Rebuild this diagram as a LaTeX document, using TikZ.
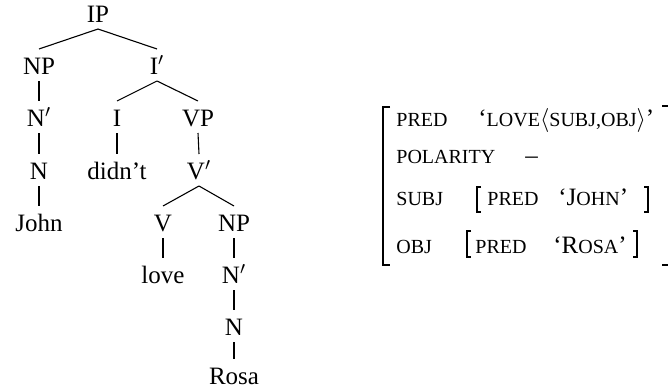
\documentclass[tikz,border=0pt]{standalone}
\usepackage{fontspec}
\setmainfont{Liberation Serif}
\usepackage{tikz}
\usetikzlibrary{calc}
\newcommand{\fsc}[1]{{\fontsize{10}{12}\selectfont #1}}
\tikzset{
  cat/.style={anchor=base, inner sep=0pt, font=\fontsize{12.5}{15}\selectfont},
  br/.style={draw=black, line width=0.55pt},
  brk/.style={draw=black, line width=0.6pt, line cap=butt},
  feat/.style={anchor=base west, inner sep=0pt, font=\fontsize{12.5}{15}\selectfont},
}

\begin{document}
\begin{tikzpicture}[x=0.5pt,y=-0.5pt]
  \useasboundingbox (0,0) rectangle (668,391);
  % tree
  \node[cat] (IP)   at (98,22)   {IP};
  \node[cat] (NPa)  at (39,74)   {NP};
  \node[cat] (Ibar) at (157,74)  {I$'$};
  \node[cat] (Nba)  at (39,126)  {N$'$};
  \node[cat] (I)    at (117,126) {I};
  \node[cat] (VP)   at (198,126) {VP};
  \node[cat] (Na)   at (39,179)  {N};
  \node[cat] (didnt) at (117,179) {didn't};
  \node[cat] (Vbar) at (199,179) {V$'$};
  \node[cat] (John) at (39,231)  {John};
  \node[cat] (V)    at (163,231) {V};
  \node[cat] (NPb)  at (234,231) {NP};
  \node[cat] (love) at (163,283) {love};
  \node[cat] (Nbb)  at (234,283) {N$'$};
  \node[cat] (Nb)   at (234,335) {N};
  \node[cat] (Rosa) at (234,384) {Rosa};
  \foreach \p/\c in {IP/NPa,IP/Ibar,NPa/Nba,Nba/Na,Na/John,Ibar/I,Ibar/VP,
                     I/didnt,VP/Vbar,Vbar/V,Vbar/NPb,V/love,NPb/Nbb,Nbb/Nb,Nb/Rosa}
    \draw[br] ($(\p.base)+(0,7)$) -- ($(\c.base)+(0,-25)$);
  % f-structure
  \node[feat] (pred)  at (396,126) {\fsc{PRED}};
  \node[feat] (predv) at (478,126) {`\fsc{LOVE}$\langle$\fsc{SUBJ,OBJ}$\rangle$'};
  \node[feat] (pol)   at (396,163) {\fsc{POLARITY}};
  \node[feat] (polv)  at (525,163) {--};
  \node[feat] (subj)  at (396,205) {\fsc{SUBJ}};
  \node[feat] (spred) at (487,205) {\fsc{PRED}};
  \node[feat] (sval)  at (558,205) {`J\fsc{OHN}'};
  \node[feat] (obj)   at (396,253) {\fsc{OBJ}};
  \node[feat] (opred) at (475,253) {\fsc{PRED}};
  \node[feat] (oval)  at (553,253) {`R\fsc{OSA}'};
  % brackets
  \draw[brk] (390,107) -- (383,107) -- (383,265) -- (390,265);
  \draw[brk] (662,106) -- (669,106) -- (669,265) -- (662,265);
  \draw[brk] (481,187) -- (477,187) -- (477,212) -- (481,212);
  \draw[brk] (644,187) -- (648,187) -- (648,212) -- (644,212);
  \draw[brk] (471,231) -- (467,231) -- (467,257) -- (471,257);
  \draw[brk] (633,231) -- (637,231) -- (637,257) -- (633,257);
\end{tikzpicture}
\end{document}
